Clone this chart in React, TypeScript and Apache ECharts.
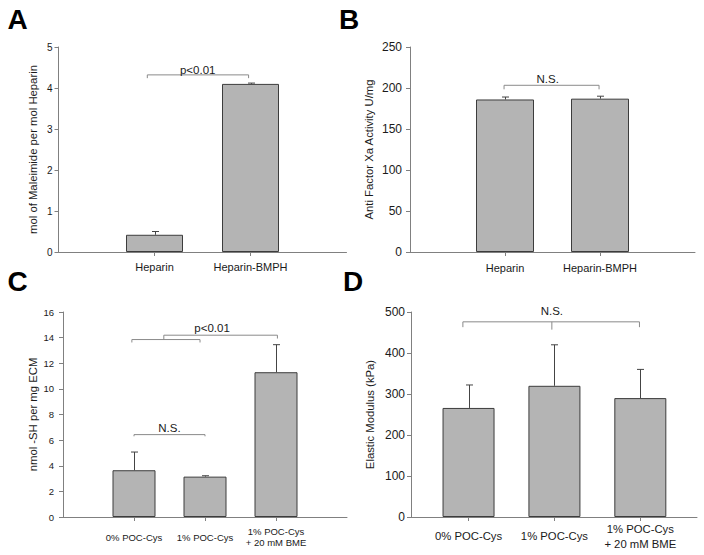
import { useEffect, useRef } from 'react';
import * as echarts from 'echarts';

// ---- Data ----
const categoriesAB = ['Heparin', 'Heparin-BMPH'];
const categoriesCD = ['0% POC-Cys', '1% POC-Cys', '1% POC-Cys\n+ 20 mM BME'];

const valuesA = [0.42, 4.1];
const errorsA = [0.08, 0.02];

const valuesB = [186, 187];
const errorsB = [3, 3];

const valuesC = [3.65, 3.15, 11.3];
const errorsC = [1.42, 0.07, 2.15];

const valuesD = [266, 320, 290];
const errorsD = [56, 100, 70];

const yTicksA = { min: 0, max: 5, interval: 1 };
const yTicksB = { min: 0, max: 250, interval: 50 };
const yTicksC = { min: 0, max: 16, interval: 2 };
const yTicksD = { min: 0, max: 500, interval: 100 };

const yNames = [
  'mol of Maleimide per mol Heparin',
  'Anti Factor Xa Activity U/mg',
  'nmol -SH per mg ECM',
  'Elastic Modulus (kPa)',
];

// significance brackets (data coordinates of each panel)
const bracketsA = [
  { lines: [[[0.925, 4.24], [0.925, 4.32], [1.98, 4.32], [1.98, 4.24]]], text: 'p<0.01', tx: 1.45, ty: 4.44 },
];
const bracketsB = [
  { lines: [[[0.99, 198.4], [0.99, 203.3], [1.99, 203.3], [1.99, 198.4]]], text: 'N.S.', tx: 1.45, ty: 211 },
];
const bracketsC = [
  { lines: [[[1.0, 6.3], [1.0, 6.43], [2.0, 6.43], [2.0, 6.3]]], text: 'N.S.', tx: 1.5, ty: 6.95 },
  {
    lines: [
      [[0.97, 13.62], [0.97, 13.85], [1.93, 13.85], [1.93, 13.62]],
      [[1.42, 13.85], [1.42, 14.19], [3.02, 14.19], [3.02, 13.93]],
    ],
    text: 'p<0.01', tx: 2.1, ty: 14.77,
  },
];
const bracketsD = [
  {
    lines: [
      [[0.934, 463], [0.934, 476], [2.99, 476], [2.99, 463]],
      [[1.97, 476], [1.97, 457]],
    ],
    text: 'N.S.', tx: 1.97, ty: 502,
  },
];

const FONT = 'Liberation Sans';
const AXIS_COLOR = '#808080';
const TEXT_COLOR = '#1a1a1a';
const BAR_COLOR = '#b4b4b4';
const BAR_BORDER = '#3c3c3c';
const BRACKET_COLOR = '#8a8a8a';

function barSeries(idx: number, values: number[], width: number) {
  return {
    type: 'bar',
    xAxisIndex: idx,
    yAxisIndex: idx,
    barWidth: width,
    data: values.map((v, i) => [i + 1, v]),
    itemStyle: { color: BAR_COLOR, borderColor: BAR_BORDER, borderWidth: 1 },
    z: 2,
  };
}

function errorSeries(idx: number, values: number[], errors: number[]) {
  return {
    type: 'custom',
    xAxisIndex: idx,
    yAxisIndex: idx,
    data: values.map((v, i) => [i + 1, v, v + errors[i]]),
    encode: { x: 0, y: [1, 2] },
    z: 3,
    renderItem: (_params: any, api: any) => {
      const x = api.value(0);
      const lo = api.coord([x, api.value(1)]);
      const hi = api.coord([x, api.value(2)]);
      const cx = Math.round(lo[0]) + 0.5;
      const st = { stroke: '#444', lineWidth: 1, fill: 'none' };
      return {
        type: 'group',
        children: [
          { type: 'line', shape: { x1: cx, y1: lo[1], x2: cx, y2: hi[1] }, style: st },
          { type: 'line', shape: { x1: cx - 3.5, y1: hi[1], x2: cx + 3.5, y2: hi[1] }, style: st },
        ],
      };
    },
  };
}

function bracketSeries(idx: number, brackets: any[]) {
  return {
    type: 'custom',
    xAxisIndex: idx,
    yAxisIndex: idx,
    data: brackets.map((b) => [b.tx, b.ty]),
    encode: { x: 0, y: 1 },
    z: 4,
    clip: false,
    renderItem: (params: any, api: any) => {
      const b = brackets[params.dataIndex];
      const children: any[] = b.lines.map((pts: number[][]) => ({
        type: 'polyline',
        shape: { points: pts.map((p) => api.coord(p)) },
        style: { stroke: BRACKET_COLOR, lineWidth: 1, fill: 'none' },
      }));
      const t = api.coord([b.tx, b.ty]);
      children.push({
        type: 'text',
        x: t[0],
        y: t[1],
        style: {
          text: b.text,
          fill: TEXT_COLOR,
          fontSize: 11.5,
          fontFamily: FONT,
          align: 'center',
          verticalAlign: 'middle',
        },
      });
      return { type: 'group', children };
    },
  };
}

function xAxis(idx: number, min: number, max: number, labels: string[], fontSize: number, lineHeight: number, margin: number) {
  const pos = labels.map((_, i) => i + 1);
  return {
    type: 'value',
    gridIndex: idx,
    min,
    max,
    axisLine: { show: true, lineStyle: { color: AXIS_COLOR, width: 1 } },
    axisTick: { show: true, customValues: pos, length: 4, lineStyle: { color: AXIS_COLOR } },
    axisLabel: {
      show: true,
      customValues: pos,
      formatter: (v: number) => labels[Math.round(v) - 1] ?? '',
      fontSize,
      lineHeight,
      margin,
      verticalAlign: 'middle',
      color: TEXT_COLOR,
      fontFamily: FONT,
    },
    splitLine: { show: false },
  };
}

function yAxis(idx: number, ticks: { min: number; max: number; interval: number }, name: string, fontSize: number, margin: number, nameGap: number) {
  return {
    type: 'value',
    gridIndex: idx,
    min: ticks.min,
    max: ticks.max,
    interval: ticks.interval,
    name,
    nameLocation: 'middle',
    nameGap,
    nameTextStyle: { fontSize: 11.3, color: TEXT_COLOR, fontFamily: FONT },
    axisLine: { show: true, lineStyle: { color: AXIS_COLOR, width: 1 } },
    axisTick: { show: true, length: 4, lineStyle: { color: AXIS_COLOR } },
    axisLabel: { fontSize, margin, color: TEXT_COLOR, fontFamily: FONT },
    splitLine: { show: false },
  };
}

function letter(text: string, x: number, y: number) {
  return {
    type: 'text',
    x,
    y,
    style: {
      text,
      fill: '#000',
      fontSize: 28,
      fontWeight: 'bold',
      fontFamily: FONT,
      align: 'center',
      verticalAlign: 'middle',
    },
  };
}

export default function App() {
  const ref = useRef<HTMLDivElement>(null);
  useEffect(() => {
    if (!ref.current) return;
    const chart = echarts.init(ref.current, undefined, { renderer: 'svg' });
    chart.setOption({
      animation: false,
      backgroundColor: '#ffffff',
      textStyle: { fontFamily: FONT },
      grid: [
        { left: 58.5, top: 47, width: 288, height: 205 },
        { left: 410, top: 47, width: 285, height: 205 },
        { left: 63, top: 312, width: 284, height: 205 },
        { left: 411, top: 312, width: 286, height: 205 },
      ],
      xAxis: [
        xAxis(0, 0, 3, categoriesAB, 11, 13, 15),
        xAxis(1, 0, 3, categoriesAB, 11, 13, 16),
        xAxis(2, 0, 4, categoriesCD, 9.5, 11, 20),
        xAxis(3, 0.33, 3.66, categoriesCD, 11.3, 15, 19),
      ],
      yAxis: [
        yAxis(0, yTicksA, yNames[0], 10, 6, 20),
        yAxis(1, yTicksB, yNames[1], 12, 8, 36),
        yAxis(2, yTicksC, yNames[2], 9.5, 9, 25),
        yAxis(3, yTicksD, yNames[3], 12, 6, 36),
      ],
      series: [
        barSeries(0, valuesA, 57),
        errorSeries(0, valuesA, errorsA),
        bracketSeries(0, bracketsA),
        barSeries(1, valuesB, 58),
        errorSeries(1, valuesB, errorsB),
        bracketSeries(1, bracketsB),
        barSeries(2, valuesC, 43),
        errorSeries(2, valuesC, errorsC),
        bracketSeries(2, bracketsC),
        barSeries(3, valuesD, 52),
        errorSeries(3, valuesD, errorsD),
        bracketSeries(3, bracketsD),
      ],
      graphic: [
        letter('A', 17.5, 19.5),
        letter('B', 349, 19.5),
        letter('C', 17.5, 281),
        letter('D', 353, 281),
      ],
    });
    return () => chart.dispose();
  }, []);
  return (
    <div
      ref={ref}
      style={{ position: 'absolute', left: 0, top: 0, width: 704, height: 555, background: '#fff' }}
    />
  );
}
